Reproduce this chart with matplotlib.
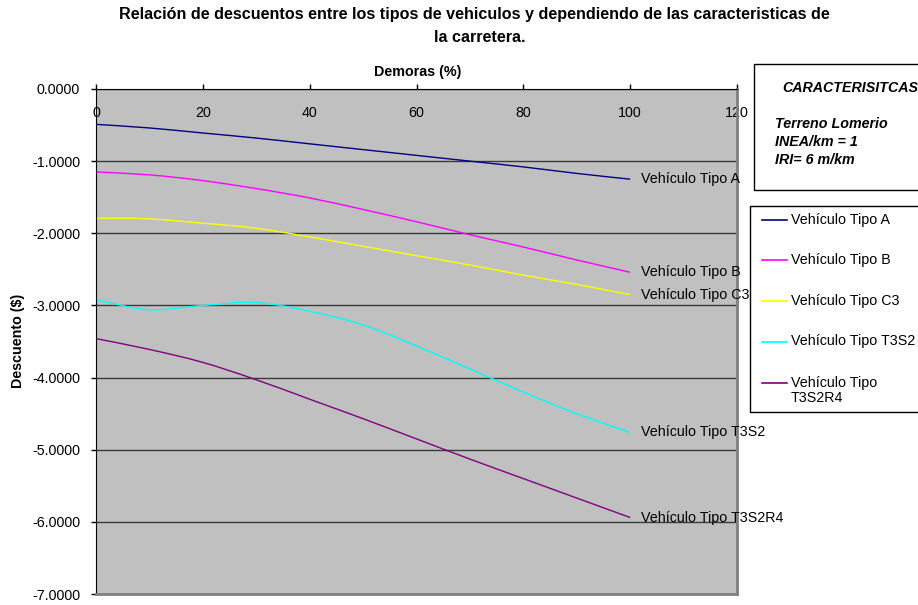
import matplotlib
matplotlib.use("Agg")
import matplotlib.pyplot as plt
from matplotlib.path import Path
from matplotlib.patches import PathPatch, Rectangle
from matplotlib.lines import Line2D
from matplotlib.ticker import FormatStrFormatter

plt.rcParams['font.family'] = ['Liberation Sans', 'DejaVu Sans']
plt.rcParams['font.size'] = 10.3

# demoras (%) y descuento ($) por tipo de vehiculo
demoras = [0, 10, 20, 30, 40, 50, 60, 70, 80, 90, 100]
tipo_a = [-0.49, -0.54, -0.61, -0.68, -0.76, -0.84, -0.92, -1.00, -1.08, -1.17, -1.25]
tipo_b = [-1.15, -1.19, -1.27, -1.38, -1.51, -1.67, -1.84, -2.02, -2.19, -2.37, -2.54]
tipo_c3 = [-1.79, -1.80, -1.86, -1.93, -2.05, -2.18, -2.31, -2.44, -2.58, -2.71, -2.85]
tipo_t3s2 = [-2.92, -3.06, -3.00, -2.96, -3.08, -3.27, -3.56, -3.88, -4.20, -4.50, -4.76]
tipo_t3s2r4 = [-3.46, -3.61, -3.79, -4.03, -4.30, -4.57, -4.85, -5.13, -5.40, -5.67, -5.94]

nombres = ['Vehículo Tipo A', 'Vehículo Tipo B', 'Vehículo Tipo C3',
           'Vehículo Tipo T3S2', 'Vehículo Tipo T3S2R4']
nombres_leyenda = ['Vehículo Tipo A', 'Vehículo Tipo B', 'Vehículo Tipo C3',
                   'Vehículo Tipo T3S2', 'Vehículo Tipo\nT3S2R4']
colores = ['#000080', '#ff00ff', '#ffff00', '#00ffff', '#800080']
valores = [tipo_a, tipo_b, tipo_c3, tipo_t3s2, tipo_t3s2r4]

W, H = 918, 605


def fx(px):
    return px / W


def fy(py):
    return 1 - py / H


def curva(x, y):
    # linea suavizada con segmentos bezier (tipo Excel)
    n = len(x)
    verts = [(x[0], y[0])]
    codes = [Path.MOVETO]
    for i in range(n - 1):
        a = max(i - 1, 0)
        b = min(i + 2, n - 1)
        c1 = (x[i] + (x[i + 1] - x[a]) / 6, y[i] + (y[i + 1] - y[a]) / 6)
        c2 = (x[i + 1] - (x[b] - x[i]) / 6, y[i + 1] - (y[b] - y[i]) / 6)
        verts += [c1, c2, (x[i + 1], y[i + 1])]
        codes += [Path.CURVE4] * 3
    return Path(verts, codes)


fig = plt.figure(figsize=(W / 100, H / 100), dpi=100)
ax = fig.add_axes([fx(96), fy(594), fx(737 - 96), (594 - 89) / H])
ax.set_facecolor('#c0c0c0')
ax.set_xlim(0, 120)
ax.set_ylim(-7, 0)

for nombre, y, c in zip(nombres, valores, colores):
    ax.add_patch(PathPatch(curva(demoras, y), fill=False, edgecolor=c, lw=1.0))
    ax.text(demoras[-1] + 2, y[-1], nombre, va='center', ha='left',
            clip_on=False)

ax.set_xticks(range(0, 121, 20))
ax.set_yticks(range(-7, 1))
ax.yaxis.set_major_formatter(FormatStrFormatter('%.4f'))
ax.xaxis.set_ticks_position('top')
ax.tick_params(axis='x', direction='out', length=3.5, width=1, pad=-25.5,
               labeltop=True, labelbottom=False)
ax.tick_params(axis='y', direction='out', length=3.5, width=1, pad=8)
ax.grid(axis='y', color='#3a3a3a', lw=1)
ax.grid(axis='x', visible=False)
ax.set_axisbelow(True)

ax.spines['left'].set_color('black')
ax.spines['top'].set_color('black')
ax.spines['right'].set_color('#808080')
ax.spines['right'].set_linewidth(2)
ax.spines['bottom'].set_color('#808080')
ax.spines['bottom'].set_linewidth(2)

fig.text(fx(474), fy(15), 'Relación de descuentos entre los tipos de vehiculos y dependiendo de las caracteristicas de',
         ha='center', va='center', fontweight='bold', fontsize=11.6)
fig.text(fx(480), fy(37), 'la carretera.', ha='center', va='center',
         fontweight='bold', fontsize=11.6)
fig.text(fx(418), fy(72), 'Demoras (%)', ha='center', va='center',
         fontweight='bold')
fig.text(fx(18), fy(341), 'Descuento ($)', ha='center', va='center',
         rotation=90, fontweight='bold')

# cuadro de caracteristicas
fig.add_artist(Rectangle((fx(754), fy(190)), fx(200), (190 - 64) / H,
                         transform=fig.transFigure, facecolor='white',
                         edgecolor='black', lw=1))
fig.text(fx(782), fy(88), 'CARACTERISITCAS', ha='left', va='center',
         fontweight='bold', style='italic')
for txt, py in [('Terreno Lomerio', 124), ('INEA/km = 1', 142), ('IRI= 6 m/km', 160)]:
    fig.text(fx(775), fy(py), txt, ha='left', va='center',
             fontweight='bold', style='italic')

# leyenda
fig.add_artist(Rectangle((fx(750), fy(412)), fx(200), (412 - 206) / H,
                         transform=fig.transFigure, facecolor='white',
                         edgecolor='black', lw=1))
pos_leyenda = [220, 260, 301, 342, 383]
for nombre, c, py in zip(nombres_leyenda, colores, pos_leyenda):
    fig.add_artist(Line2D([fx(762), fx(787)], [fy(py), fy(py)], color=c, lw=1.2,
                          transform=fig.transFigure))
    fig.text(fx(791), fy(py - 7.5), nombre, ha='left', va='top',
             linespacing=1.1)

fig.savefig('out.png', dpi=100)
